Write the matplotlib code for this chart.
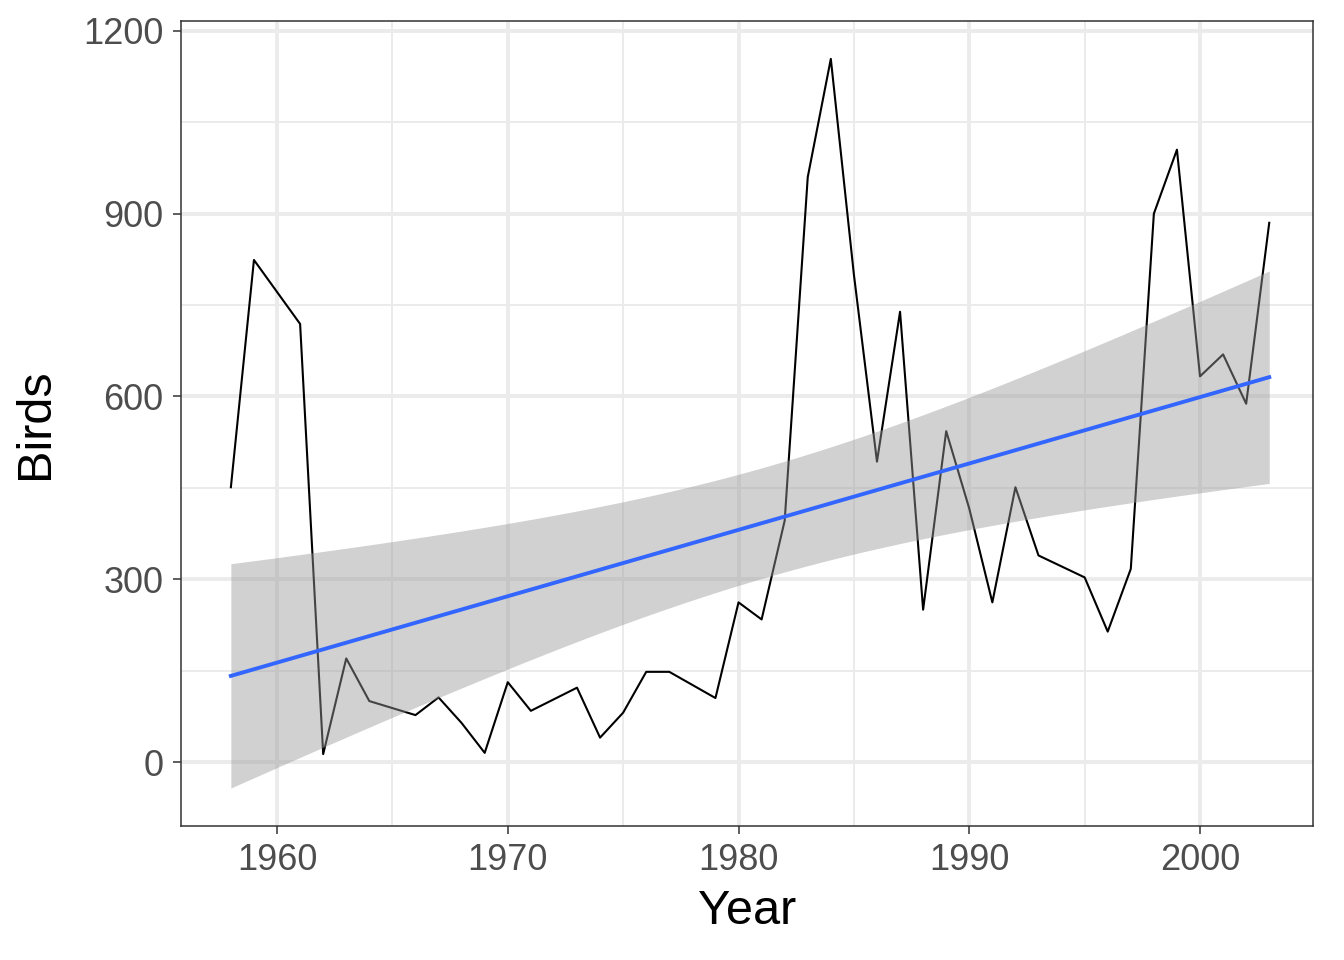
import numpy as np
import matplotlib
matplotlib.use("Agg")
import matplotlib.pyplot as plt
from matplotlib.ticker import MultipleLocator

# ---- data ----
years = [1958, 1959, 1961, 1962, 1963, 1964, 1966, 1967, 1968, 1969,
         1970, 1971, 1973, 1974, 1975, 1976, 1977, 1979, 1980, 1981,
         1982, 1983, 1984, 1985, 1986, 1987, 1988, 1989, 1990, 1991,
         1992, 1993, 1995, 1996, 1997, 1998, 1999, 2000, 2001, 2002, 2003]
birds = [451, 824, 719, 13, 170, 100, 77, 106, 64, 15,
         131, 84, 122, 40, 81, 148, 148, 105, 262, 234,
         396, 960, 1154, 800, 493, 739, 250, 543, 416, 262,
         451, 339, 303, 214, 317, 900, 1005, 633, 669, 588, 885]

x = np.array(years, dtype=float)
y = np.array(birds, dtype=float)

# linear fit with 95% confidence band (like geom_smooth(method="lm"))
n = len(x)
b1, b0 = np.polyfit(x, y, 1)
resid = y - (b0 + b1 * x)
s = np.sqrt(np.sum(resid ** 2) / (n - 2))
t_crit = 2.0227  # t(0.975, df=39)
xs = np.linspace(x.min(), x.max(), 80)
ys = b0 + b1 * xs
se = s * np.sqrt(1.0 / n + (xs - x.mean()) ** 2 / np.sum((x - x.mean()) ** 2))

plt.rcParams['font.family'] = ['Liberation Sans', 'DejaVu Sans']

fig = plt.figure(figsize=(6.72, 4.8), dpi=200)
ax = fig.add_axes([0.1347, 0.1396, 0.977 - 0.1347, 0.978 - 0.1396])

ax.fill_between(xs, ys - t_crit * se, ys + t_crit * se, color='#999999',
                alpha=0.45, linewidth=0, zorder=3)
ax.plot(x, y, color='black', lw=0.75, zorder=2)
ax.plot(xs, ys, color='#3366FF', lw=1.4, zorder=4)

ax.set_xlim(1955.84, 2004.9)
ax.set_ylim(-105, 1216)
ax.xaxis.set_major_locator(MultipleLocator(10))
ax.xaxis.set_minor_locator(MultipleLocator(5))
ax.yaxis.set_major_locator(MultipleLocator(300))
ax.yaxis.set_minor_locator(MultipleLocator(150))

ax.grid(which='major', color='#EBEBEB', lw=1.4, zorder=0)
ax.grid(which='minor', color='#EBEBEB', lw=0.7, zorder=0)
ax.set_axisbelow(True)

for sp in ax.spines.values():
    sp.set_color('#333333')
    sp.set_linewidth(0.55)

ax.tick_params(which='major', length=2.75, width=0.55, color='#333333',
               labelsize=13, labelcolor='#4D4D4D', pad=3.5)
ax.tick_params(which='minor', length=0)

ax.set_xlabel('Year', fontsize=17.5, labelpad=4)
ax.set_ylabel('Birds', fontsize=17.5, labelpad=9)

fig.savefig('out.png', dpi=200)
